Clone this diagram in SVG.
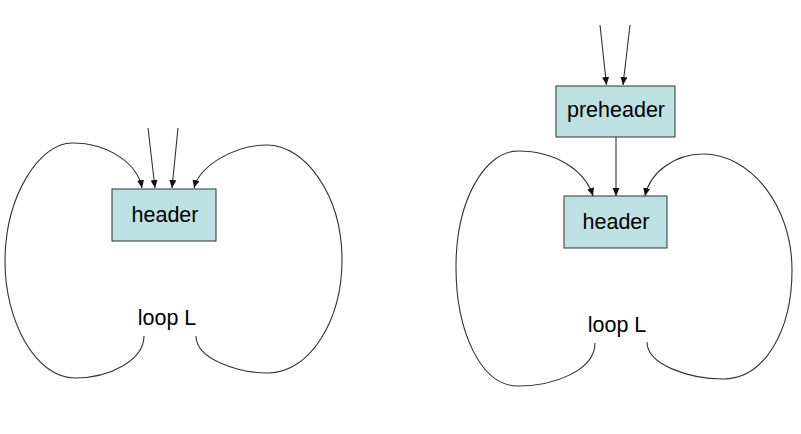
<svg xmlns="http://www.w3.org/2000/svg" width="801" height="434" viewBox="0 0 801 434">
<style>
.box{fill:#bde0e3;stroke:#333;stroke-width:1}
.lbl{font-family:"Liberation Sans",Arial,sans-serif;font-size:21.5px;fill:#000;text-anchor:middle}
.con{fill:none;stroke:#333;stroke-width:1.1}
</style>
<defs>
<marker id="ah" markerUnits="userSpaceOnUse" markerWidth="8" markerHeight="8" refX="8" refY="3.5" orient="auto">
<path d="M0,0 L8,3.5 L0,7 z" fill="#111"/>
</marker>
</defs>
<rect width="801" height="434" fill="#fff"/>
<g id="connectors">
<path class="con" d="M148,128 L155,188" marker-end="url(#ah)"/>
<path class="con" d="M178,128 L172,188" marker-end="url(#ah)"/>
<path class="con" d="M144,336 C144,360 110,378 75,378 C35,378 5,320 5,262 C5,195 40,143 72,143 C110,143 138,165 142,188" marker-end="url(#ah)"/>
<path class="con" d="M196,336 C196,360 240,373 268,373 C310,373 342,320 342,260 C342,195 305,145 267,145 C235,145 200,165 194,188" marker-end="url(#ah)"/>
<path class="con" d="M600,25 L606.5,85" marker-end="url(#ah)"/>
<path class="con" d="M630,25 L623,85" marker-end="url(#ah)"/>
<path class="con" d="M616,137 L616,196" marker-end="url(#ah)"/>
<path class="con" d="M595,343 C595,370 555,386 518,386 C480,386 456,330 456,267 C456,200 485,151 518,151 C555,151 585,170 593,196" marker-end="url(#ah)"/>
<path class="con" d="M647,342 C647,365 690,379 723,379 C765,379 792,330 792,270 C792,205 750,154 703,154 C675,154 650,172 645,196" marker-end="url(#ah)"/>
</g>
<g id="header-left">
<rect class="box" x="112" y="189" width="104" height="52"/>
<text class="lbl" x="165" y="222">header</text>
</g>
<g id="loopL-left">
<text class="lbl" x="167" y="325">loop L</text>
</g>
<g id="preheader">
<rect class="box" x="556" y="86" width="119" height="51"/>
<text class="lbl" x="616" y="117">preheader</text>
</g>
<g id="header-right">
<rect class="box" x="564" y="196" width="103" height="52"/>
<text class="lbl" x="616" y="229">header</text>
</g>
<g id="loopL-right">
<text class="lbl" x="617" y="332">loop L</text>
</g>
</svg>
